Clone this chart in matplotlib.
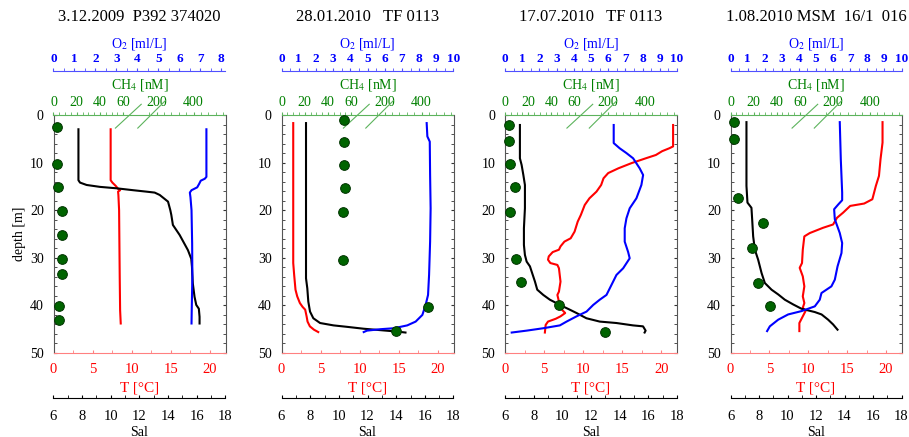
import matplotlib

matplotlib.use("Agg")
import matplotlib.pyplot as plt
import numpy as np

W, H = 909, 437

RED = "#ff0000"
BLUE = "#0000ff"
GREEN = "#008000"
DOT = "#006400"

plt.rcParams.update({
    "font.family": ["Liberation Serif", "DejaVu Serif"],
    "mathtext.fontset": "stix",
    "font.size": 10,
})

TITLES = ["3.12.2009  P392 374020", "28.01.2010   TF 0113",
          "17.07.2010   TF 0113", "1.08.2010 MSM  16/1  016"]
O2_MAX = [8.2, 10, 10, 10]
O2_TICK_MAX = [8, 10, 10, 10]
CH4_LABELS = [0, 20, 40, 60, 200, 400]

# ---- panel 1 : 3.12.2009 ----
sal1_z = [3.0, 13.7, 14.2, 14.7, 15.1, 15.4, 15.8, 16.1, 16.3, 16.8, 18.2, 20.0, 21.0,
          23.1, 25.2, 28.4, 30.2, 31.9, 33.3, 35.4, 38.2, 39.9, 40.7, 42.4, 43.8]
sal1 = [7.74, 7.74, 7.85, 8.31, 9.24, 10.4, 11.56, 12.48, 13.06, 13.41, 13.99, 14.15, 14.22,
        14.33, 14.8, 15.38, 15.61, 15.66, 15.68, 15.72, 15.84, 15.96, 16.14, 16.19, 16.19]
t1_z = [3.0, 13.7, 14.2, 14.9, 15.5, 15.8, 16.1, 16.8, 20.0, 27.0, 34.0, 41.0, 43.8]
t1 = [7.31, 7.31, 7.53, 7.96, 8.26, 8.52, 8.26, 8.3, 8.39, 8.43, 8.47, 8.52, 8.6]
o21_z = [3.0, 13.0, 13.4, 13.8, 14.5, 15.2, 15.8, 16.3, 17.3, 20.0, 27.0, 34.0, 41.0, 43.8]
o21 = [7.29, 7.29, 7.21, 7.02, 6.94, 6.85, 6.58, 6.5, 6.53, 6.58, 6.61, 6.62, 6.59, 6.58]
ch41_z = [2.5, 10.3, 15.2, 20.1, 25.2, 30.2, 33.3, 40.2, 43.1]
ch41 = [3.4, 3.4, 4.3, 7.7, 7.7, 7.7, 7.7, 5.1, 5.1]

# ---- panel 2 : 28.01.2010 ----
sal2_z = [1.7, 34.3, 36.4, 39.2, 41.3, 42.7, 43.7, 44.2, 44.5, 44.9, 45.2, 45.5, 45.7]
sal2 = [7.71, 7.71, 7.8, 7.87, 7.99, 8.22, 8.69, 9.63, 10.56, 11.73, 12.9, 14.07, 14.65]
t2_z = [1.7, 31.1, 33.6, 36.7, 38.1, 39.5, 40.3, 40.9, 42.3, 43.4, 44.4, 45.1, 45.6]
t2 = [1.5, 1.5, 1.62, 1.79, 2.01, 2.35, 2.69, 3.03, 3.21, 3.33, 3.63, 4.15, 4.7]
o22_z = [1.7, 4.5, 5.6, 12.6, 19.6, 26.6, 33.6, 37.8, 39.9, 42.0, 43.4, 44.2, 44.8, 45.0, 45.3, 45.6]
o22 = [8.44, 8.48, 8.62, 8.64, 8.67, 8.64, 8.58, 8.52, 8.38, 8.19, 7.8, 7.31, 6.53, 5.75, 4.97, 4.78]
ch42_z = [1.05, 5.6, 10.5, 15.4, 20.4, 30.4, 40.3, 45.3]
ch42 = [54, 54, 54, 55, 53.4, 52.8, 435, 264]

# ---- panel 3 : 17.07.2010 ----
sal3_z = [2.1, 9.1, 10.5, 12.6, 14.7, 19.6, 23.8, 27.3, 29.4, 30.8, 31.8, 32.9, 35.0,
          36.7, 37.8, 38.8, 39.9, 40.9, 41.6, 42.7, 43.4, 43.7, 44.2, 44.4, 45.3, 45.7]
sal3 = [7.04, 7.04, 7.16, 7.28, 7.39, 7.39, 7.32, 7.32, 7.39, 7.51, 7.74, 7.86, 8.09,
        8.25, 8.67, 9.13, 9.83, 10.52, 10.99, 11.68, 12.61, 13.77, 14.93, 15.63, 15.81, 15.74]
t3_z = [2.1, 6.6, 7.0, 7.6, 8.4, 9.1, 10.1, 11.2, 12.2, 13.3, 14.7, 16.1, 17.5, 18.9,
        21.0, 22.4, 24.5, 25.9, 26.6, 27.6, 28.3, 28.8, 29.7, 30.4, 31.1, 31.5, 32.2,
        35.0, 37.1, 37.8, 39.2, 40.6, 41.6, 42.3, 42.8, 43.4, 44.1, 45.7]
t3 = [21.5, 21.5, 21.0, 20.1, 19.3, 18.0, 16.2, 14.5, 13.2, 12.6, 12.3, 11.7, 10.8, 10.2,
      9.7, 9.3, 8.9, 8.4, 7.6, 7.1, 6.9, 6.1, 5.6, 5.5, 5.8, 6.7, 6.9,
      7.1, 6.9, 6.7, 6.9, 7.1, 7.7, 7.1, 6.5, 5.5, 5.2, 5.1]
o23_z = [2.1, 5.9, 7.0, 8.0, 9.1, 11.2, 12.6, 14.7, 17.5, 19.6, 21.7, 23.8, 26.6, 28.8,
         30.1, 32.2, 33.6, 35.7, 37.8, 38.8, 39.9, 41.3, 42.3, 43.4, 44.2, 44.8, 45.3, 45.7]
o23 = [6.32, 6.32, 6.67, 7.06, 7.45, 7.83, 8.03, 7.93, 7.64, 7.25, 7.06, 6.96, 6.96, 7.16,
       7.25, 6.87, 6.48, 6.19, 5.9, 5.51, 5.13, 4.74, 4.16, 3.58, 3.19, 2.22, 1.26, 0.39]
ch43_z = [2.0, 5.4, 10.3, 15.2, 20.3, 30.2, 35.0, 40.0, 45.5]
ch43 = [3.7, 3.7, 4.3, 8.6, 4.3, 9.5, 13.5, 46.7, 181]

# ---- panel 4 : 1.08.2010 ----
sal4_z = [1.5, 14.9, 18.4, 19.5, 21.9, 25.5, 28.3, 30.4, 33.2, 35.3, 36.7, 37.7, 38.8,
          39.8, 40.7, 41.4, 41.9, 43.0, 44.0, 45.1]
sal4 = [7.12, 7.12, 7.19, 7.47, 7.52, 7.59, 7.71, 7.94, 8.18, 8.41, 8.88, 9.35, 9.81,
        10.4, 10.98, 11.92, 12.39, 12.85, 13.2, 13.51]
t4_z = [1.5, 5.8, 9.3, 12.8, 14.9, 17.7, 18.6, 19.1, 20.5, 21.6, 23.0, 23.7, 24.8, 25.5,
        28.3, 31.1, 32.1, 33.9, 36.0, 38.1, 39.5, 40.5, 41.2, 42.3, 43.7, 45.4]
t4 = [19.56, 19.56, 19.3, 19.1, 18.7, 18.25, 17.2, 15.4, 14.5, 13.7, 13.2, 11.9, 10.2, 9.5,
      9.3, 9.2, 8.9, 9.3, 9.5, 9.3, 9.5, 9.3, 9.65, 9.3, 8.86, 8.86]
o24_z = [1.5, 9.3, 16.3, 17.9, 18.8, 19.8, 21.9, 24.8, 26.9, 29.0, 31.8, 34.6, 36.0,
         37.4, 38.8, 40.2, 41.2, 41.9, 43.0, 44.4, 45.4]
o24 = [6.39, 6.45, 6.53, 6.53, 6.3, 6.06, 6.1, 6.39, 6.53, 6.49, 6.26, 6.1, 5.9,
       5.32, 5.22, 4.93, 4.15, 3.37, 2.79, 2.3, 2.14]
ch44_z = [1.4, 5.1, 17.4, 22.7, 27.9, 35.3, 40.2]
ch44 = [3.2, 3.2, 6.1, 28.3, 18.8, 23.4, 34.1]

PANELS = [
    (sal1_z, sal1, t1_z, t1, o21_z, o21, ch41_z, ch41),
    (sal2_z, sal2, t2_z, t2, o22_z, o22, ch42_z, ch42),
    (sal3_z, sal3, t3_z, t3, o23_z, o23, ch43_z, ch43),
    (sal4_z, sal4, t4_z, t4, o24_z, o24, ch44_z, ch44),
]


# broken CH4 scale: 0-60 nM linear, then a compressed part starting at 200
def ch4_fwd(c):
    c = np.asarray(c, float)
    return np.where(c <= 60, c * 0.00675, 0.386 + c * 0.00107)


def ch4_inv(f):
    f = np.asarray(f, float)
    return np.where(f <= 0.405, f / 0.00675, np.maximum((f - 0.386) / 0.00107, 60))


def only_spine(ax, name, color):
    for s in ax.spines:
        ax.spines[s].set_visible(s == name)
    ax.spines[name].set_color(color)


fig = plt.figure(figsize=(W / 100, H / 100), dpi=100)
LEFTS = [53.5, 281.5, 505, 730.5]
WIDTHS = [172, 172, 172, 171]
BOT = (H - 353) / H
PH = 238 / H

for i, (sz, sv, tz, tv, oz, ov, cz, cv) in enumerate(PANELS):
    ax = fig.add_axes([LEFTS[i] / W, BOT, WIDTHS[i] / W, PH])
    ax.set_ylim(50, 0)
    ax.set_yticks(range(0, 51, 10))
    ax.set_yticks(range(0, 51, 2), minor=True)
    ax.tick_params(axis="y", which="both", direction="in", left=True, right=True,
                   length=2.5, pad=7, labelsize=10, colors="#333333", labelcolor="black")
    for s in ("left", "right"):
        ax.spines[s].set_color("#555555")
    ax.spines["top"].set_visible(False)
    ax.spines["bottom"].set_color("#ff8080")
    if i == 0:
        ax.set_ylabel("depth [m]", fontsize=10, labelpad=3)

    # temperature (bottom, red)
    ax.set_xlim(0, 22)
    ax.set_xticks([0, 5, 10, 15, 20])
    ax.set_xticks(np.arange(0, 22.1, 2.5), minor=True)
    ax.tick_params(axis="x", which="both", direction="in", length=2.5, pad=7.5,
                   colors="#ff8080", labelcolor=RED, labelsize=10.5)
    ax.set_xlabel("T [°C]", color=RED, fontsize=11, labelpad=3.5)

    # salinity (second bottom axis, black)
    ax_s = ax.twiny()
    ax_s.xaxis.set_ticks_position("bottom")
    ax_s.xaxis.set_label_position("bottom")
    only_spine(ax_s, "bottom", "black")
    ax_s.spines["bottom"].set_position(("outward", 32.4))
    ax_s.set_xlim(6, 18)
    ax_s.set_xticks(range(6, 19, 2))
    ax_s.set_xticks(range(6, 19), minor=True)
    ax_s.tick_params(axis="x", which="both", direction="in", length=2.5, pad=8.5,
                     labelsize=10.5)
    ax_s.set_xlabel("Sal", fontsize=10, labelpad=2)

    # oxygen (upper top axis, blue)
    ax_o = ax.twiny()
    only_spine(ax_o, "top", "#5050ff")
    ax_o.spines["top"].set_position(("outward", 31.7))
    ax_o.set_xlim(0, O2_MAX[i])
    ax_o.set_xticks(range(0, O2_TICK_MAX[i] + 1))
    ax_o.set_xticks(np.arange(0, O2_TICK_MAX[i] + 0.1, 0.5), minor=True)
    ax_o.tick_params(axis="x", which="both", direction="out", length=2, pad=2.5,
                     colors="#5050ff", labelcolor=BLUE, labelsize=9.5)
    for lab in ax_o.get_xticklabels():
        lab.set_fontweight("bold")
    ax_o.set_xlabel(r"O$_2$ [ml/L]", color=BLUE, fontsize=10, labelpad=4)

    # methane (top axis on the frame, green, broken scale)
    ax_c = ax.twiny()
    only_spine(ax_c, "top", "#5cb35c")
    ax_c.set_xscale("function", functions=(ch4_fwd, ch4_inv))
    ax_c.set_xlim(0, float(ch4_inv(1.0)))
    ax_c.set_xticks(CH4_LABELS)
    ax_c.set_xticklabels([str(v) for v in CH4_LABELS])
    ax_c.set_xticks(list(range(0, 61, 5)) + list(range(160, 561, 40)), minor=True)
    ax_c.tick_params(axis="x", which="both", direction="out", length=2, pad=2,
                     colors="#5cb35c", labelcolor=GREEN, labelsize=10)
    ax_c.set_xlabel(r"CH$_4$ [nM]", color=GREEN, fontsize=10, labelpad=5.5)
    # break marks across the CH4 axis
    for x0, y0, x1, y1 in [(0.36, 0.945, 0.51, 1.045), (0.49, 0.945, 0.65, 1.06)]:
        ax_c.plot([x0, x1], [y0, y1], transform=ax_c.transAxes, color="#5cb35c",
                  lw=0.8, clip_on=False)

    # profiles
    ax_s.plot(sv, sz, color="black", lw=1.5)
    ax.plot(tv, tz, color=RED, lw=1.5)
    ax_o.plot(ov, oz, color=BLUE, lw=1.5)
    ax_c.plot(cv, cz, "o", ms=7, mfc=DOT, mec="#003300", mew=0.7, clip_on=False,
              zorder=5)

    fig.text((LEFTS[i] + WIDTHS[i] / 2) / W, 1 - 17 / H, TITLES[i], ha="center",
             va="center", fontsize=12)

fig.savefig("out.png", dpi=100)
